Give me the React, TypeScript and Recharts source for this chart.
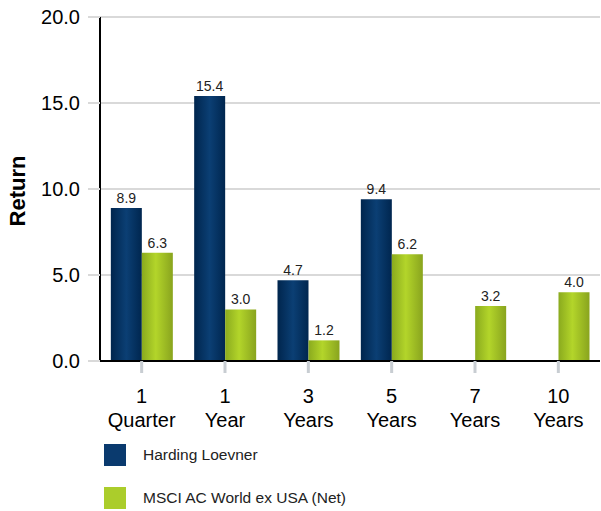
import React from "react";
import { BarChart, Bar, XAxis, YAxis, CartesianGrid, LabelList, Legend } from "recharts";

const periodsTop = ["1", "1", "3", "5", "7", "10"];
const periodsBottom = ["Quarter", "Year", "Years", "Years", "Years", "Years"];
const hardingLoevner = [8.9, 15.4, 4.7, 9.4, null, null];
const msciAcwiExUsa = [6.3, 3.0, 1.2, 6.2, 3.2, 4.0];
const yTicks = [0, 5, 10, 15, 20];

const data = periodsTop.map((t, i) => ({
  key: t + " " + periodsBottom[i],
  top: t,
  bottom: periodsBottom[i],
  hl: hardingLoevner[i],
  msci: msciAcwiExUsa[i],
}));

const FONT = "'Liberation Sans', Arial, sans-serif";

const XTick = (props: any) => {
  const { x, y, payload } = props;
  const d = data[payload.index] || data.find((r) => r.key === payload.value);
  return (
    <g transform={`translate(${x},${y})`}>
      <text x={0} y={0} textAnchor="middle" fontFamily={FONT} fontSize={20} fill="#000">
        <tspan x={0} dy={28}>{d ? d.top : ""}</tspan>
        <tspan x={0} dy={24}>{d ? d.bottom : ""}</tspan>
      </text>
    </g>
  );
};

const YLabel = (props: any) => {
  const vb = props.viewBox || { y: 17, height: 344 };
  const cy = vb.y + vb.height / 2 + 2;
  return (
    <text
      x={17}
      y={cy}
      transform={`rotate(-90, 17, ${cy})`}
      textAnchor="middle"
      dominantBaseline="central"
      fontFamily={FONT}
      fontSize={22}
      fontWeight="bold"
      fill="#000"
    >
      Return
    </text>
  );
};

const LegendContent = () => (
  <div style={{ fontFamily: FONT, fontSize: 15.5, color: "#222" }}>
    <div style={{ display: "flex", alignItems: "center", height: 22, marginBottom: 21 }}>
      <div style={{ width: 22, height: 22, background: "#0a3a6e", marginRight: 17 }} />
      <span>Harding Loevner</span>
    </div>
    <div style={{ display: "flex", alignItems: "center", height: 22 }}>
      <div style={{ width: 22, height: 22, background: "#abcd2b", marginRight: 17 }} />
      <span>MSCI AC World ex USA (Net)</span>
    </div>
  </div>
);

export default function App() {
  return (
    <div style={{ position: "absolute", left: 0, top: 0, width: 601, height: 511, background: "#fff" }}>
      <BarChart
        width={601}
        height={511}
        data={data}
        margin={{ top: 17, right: 1, left: 0, bottom: 80 }}
        barCategoryGap="13%"
        barGap={0}
      >
        <defs>
          <linearGradient id="gNavy" x1="0" y1="0" x2="1" y2="0">
            <stop offset="0%" stopColor="#00254d" />
            <stop offset="50%" stopColor="#0b3f74" />
            <stop offset="100%" stopColor="#00264f" />
          </linearGradient>
          <linearGradient id="gGreen" x1="0" y1="0" x2="1" y2="0">
            <stop offset="0%" stopColor="#8aaa1e" />
            <stop offset="45%" stopColor="#b3d52a" />
            <stop offset="100%" stopColor="#89a41e" />
          </linearGradient>
        </defs>
        <CartesianGrid vertical={false} stroke="#d9d9d9" strokeWidth={2} />
        <XAxis
          dataKey="key"
          tick={<XTick />}
          interval={0}
          height={70}
          axisLine={{ stroke: "#000", strokeWidth: 2 }}
          tickLine={{ stroke: "#c8cdd2", strokeWidth: 3 }}
          tickSize={12}
        />
        <YAxis
          domain={[0, 20]}
          ticks={yTicks}
          interval={0}
          width={100}
          tickFormatter={(v: number) => v.toFixed(1)}
          tick={{ fontFamily: FONT, fontSize: 20, fill: "#000" }}
          axisLine={{ stroke: "#000", strokeWidth: 2 }}
          tickLine={{ stroke: "#d9d9d9", strokeWidth: 2 }}
          tickSize={12}
          tickMargin={8}
          label={<YLabel />}
        />
        <Legend
          layout="vertical"
          align="center"
          verticalAlign="middle"
          content={<LegendContent />}
          wrapperStyle={{ position: "absolute", top: 444, left: 104, width: 400 }}
        />
        <Bar dataKey="hl" name="Harding Loevner" fill="url(#gNavy)" isAnimationActive={false}>
          <LabelList
            dataKey="hl"
            position="top"
            offset={5}
            formatter={(v: any) => (v == null ? "" : Number(v).toFixed(1))}
            style={{ fontFamily: FONT, fontSize: 14, fill: "#222" }}
          />
        </Bar>
        <Bar dataKey="msci" name="MSCI AC World ex USA (Net)" fill="url(#gGreen)" isAnimationActive={false}>
          <LabelList
            dataKey="msci"
            position="top"
            offset={5}
            formatter={(v: any) => (v == null ? "" : Number(v).toFixed(1))}
            style={{ fontFamily: FONT, fontSize: 14, fill: "#222" }}
          />
        </Bar>
      </BarChart>
    </div>
  );
}
